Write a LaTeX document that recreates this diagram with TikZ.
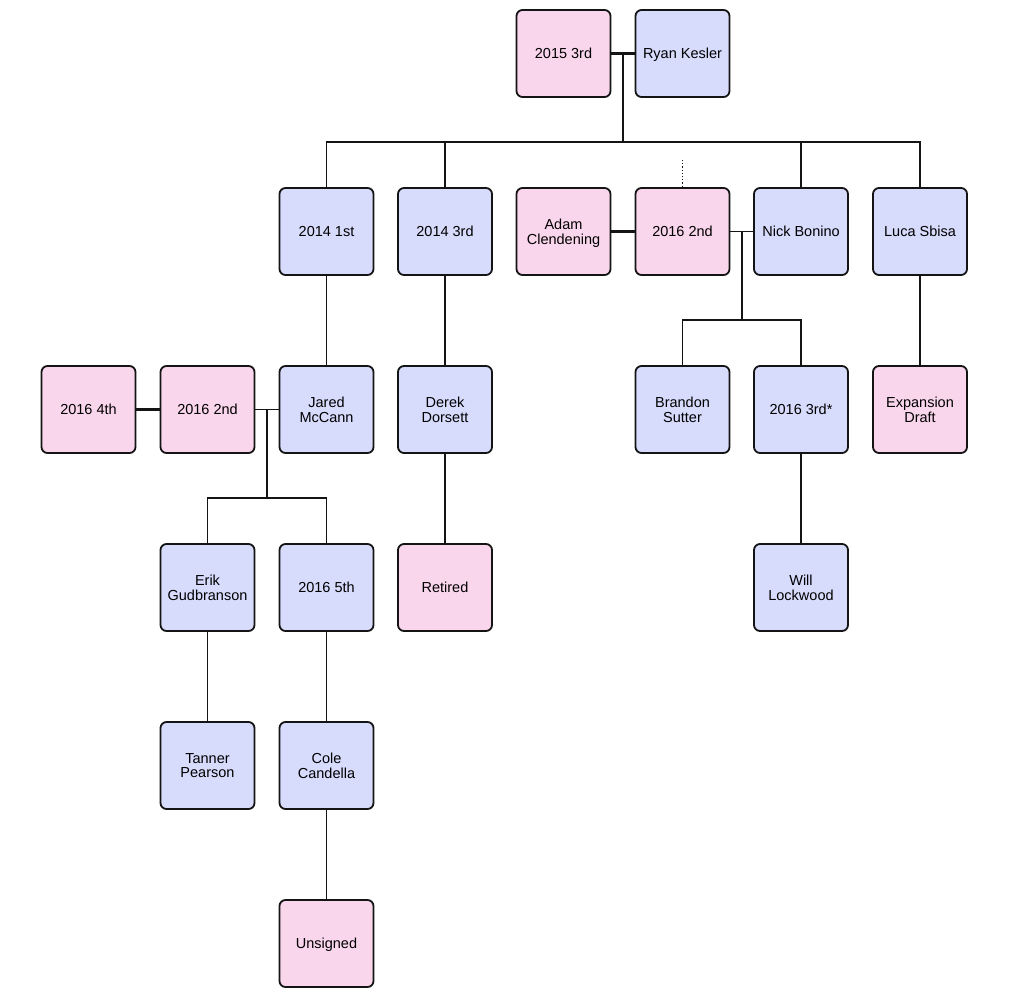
\documentclass[tikz,border=0pt]{standalone}
\usepackage{fontspec}
\setmainfont{Liberation Sans}
\usetikzlibrary{calc}
\definecolor{pinkf}{RGB}{250,214,236}
\definecolor{bluef}{RGB}{215,219,252}
\definecolor{edge}{RGB}{20,20,20}
\tikzset{
  box/.style={draw=edge, line width=1.8pt, rounded corners=6pt, minimum width=94pt, minimum height=87pt, align=center, font=\fontsize{14.5}{14.5}\selectfont, inner sep=2pt, text depth=0pt},
  pk/.style={box, fill=pinkf},
  bl/.style={box, fill=bluef},
  link/.style={draw=edge, line width=1.8pt},
  tlink/.style={draw=edge, line width=3.4pt},
}
\begin{document}
\begin{tikzpicture}[x=1pt,y=-1pt]
\useasboundingbox (0,0) rectangle (1010,1001);
% row 0
\node[pk] (p2015) at (563.5,53.5) {2015 3rd};
\node[bl] (kesler) at (682.5,53.5) {Ryan Kesler};
% row 1
\node[bl] (r14a) at (326.5,231.5) {2014 1st};
\node[bl] (r14c) at (445,231.5) {2014 3rd};
\node[pk] (adam) at (563.5,231.5) {Adam\\Clendening};
\node[pk] (p16b) at (682.5,231.5) {2016 2nd};
\node[bl] (bonino) at (801,231.5) {Nick Bonino};
\node[bl] (sbisa) at (920,231.5) {Luca Sbisa};
% row 2
\node[pk] (p16d) at (88.5,409.5) {2016 4th};
\node[pk] (p16a) at (207.5,409.5) {2016 2nd};
\node[bl] (mccann) at (326.5,409.5) {Jared\\McCann};
\node[bl] (dorsett) at (445,409.5) {Derek\\Dorsett};
\node[bl] (sutter) at (682.5,409.5) {Brandon\\Sutter};
\node[bl] (p16c) at (801,409.5) {2016 3rd*};
\node[pk] (expan) at (920,409.5) {Expansion\\Draft};
% row 3
\node[bl] (erik) at (207.5,587.5) {Erik\\Gudbranson};
\node[bl] (p16e) at (326.5,587.5) {2016 5th};
\node[pk] (retired) at (445,587.5) {Retired};
\node[bl] (will) at (801,587.5) {Will\\Lockwood};
% row 4
\node[bl] (tanner) at (207.5,765.5) {Tanner\\Pearson};
\node[bl] (cole) at (326.5,765.5) {Cole\\Candella};
% row 5
\node[pk] (unsigned) at (326.5,943.5) {Unsigned};

% top trade
\draw[tlink] (p2015.east) -- (kesler.west);
\coordinate (m0) at (623,53.5);
\coordinate (bus0) at (623,142);
\draw[link] (m0) -- (bus0);
\draw[link] (bus0) -| (r14a.north);
\draw[link] (bus0) -| (r14c.north);
\draw[link] (bus0) -| (bonino.north);
\draw[link] (bus0) -| (sbisa.north);
\coordinate (dtop) at (682.5,160);
\draw[draw=edge, line width=1.2pt, dotted] (dtop) -- (p16b.north);

% second trade
\draw[tlink] (adam.east) -- (p16b.west);
\draw[link] (p16b.east) -- (bonino.west);
\coordinate (m1) at (742,231.5);
\coordinate (bus1) at (742,320);
\draw[link] (m1) -- (bus1);
\draw[link] (bus1) -| (sutter.north);
\draw[link] (bus1) -| (p16c.north);

% straight chains
\draw[link] (sbisa.south) -- (expan.north);
\draw[link] (r14a.south) -- (mccann.north);
\draw[link] (r14c.south) -- (dorsett.north);
\draw[link] (dorsett.south) -- (retired.north);
\draw[link] (p16c.south) -- (will.north);

% third trade
\draw[tlink] (p16d.east) -- (p16a.west);
\draw[link] (p16a.east) -- (mccann.west);
\coordinate (m2) at (267,409.5);
\coordinate (bus2) at (267,498);
\draw[link] (m2) -- (bus2);
\draw[link] (bus2) -| (erik.north);
\draw[link] (bus2) -| (p16e.north);
\draw[link] (erik.south) -- (tanner.north);
\draw[link] (p16e.south) -- (cole.north);
\draw[link] (cole.south) -- (unsigned.north);
\end{tikzpicture}
\end{document}
